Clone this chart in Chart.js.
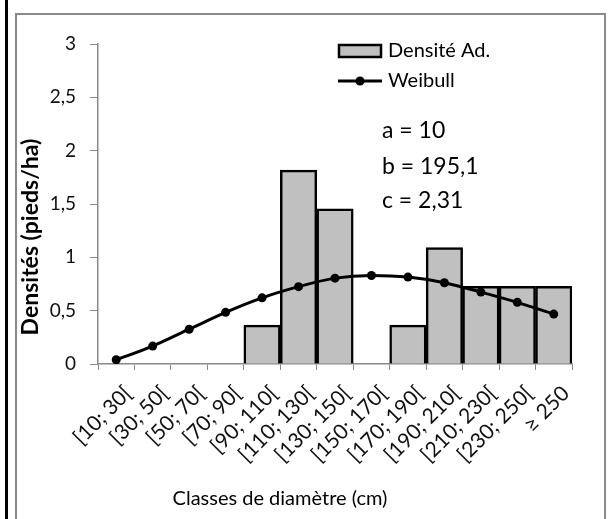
<!DOCTYPE html>
<html>
<head>
<meta charset="utf-8">
<script src="https://cdn.jsdelivr.net/npm/chart.js@4.4.0/dist/chart.umd.min.js"></script>
<style>
  html, body { margin: 0; padding: 0; background: #fff; }
  #wrap { position: relative; width: 609px; height: 519px; overflow: hidden; }
  #blackline { position: absolute; left: 5px; top: 0; width: 3px; height: 519px; background: #000; }
  #frame { position: absolute; left: 15px; top: 13px; width: 591px; height: 520px; border: 2px solid #8a8a8a; box-sizing: border-box; }
  canvas { position: absolute; left: 0; top: 0; }
</style>
</head>
<body>
<div id="wrap">
  <div id="blackline"></div>
  <div id="frame"></div>
  <canvas id="c" width="609" height="519"></canvas>
</div>
<script>
const categories = ["[10; 30[", "[30; 50[", "[50; 70[", "[70; 90[", "[90; 110[", "[110; 130[", "[130; 150[", "[150; 170[", "[170; 190[", "[190; 210[", "[210; 230[", "[230; 250[", "\u2265 250"];
const densiteAd = [0, 0, 0, 0, 0.364, 1.818, 1.455, 0, 0.364, 1.091, 0.727, 0.727, 0.727];
const weibull = [0.04, 0.168, 0.326, 0.484, 0.62, 0.725, 0.805, 0.83, 0.815, 0.762, 0.674, 0.578, 0.468];
const yTicks = [0, 0.5, 1, 1.5, 2, 2.5, 3];
const params = ["a = 10", "b = 195,1", "c = 2,31"];
const FONT = "Lato, 'Liberation Sans', sans-serif";

const overlay = {
  id: 'overlay',
  afterDraw(chart) {
    const ctx = chart.ctx;
    ctx.save();
    ctx.fillStyle = '#000';
    ctx.font = "bold 23px " + FONT;
    ctx.textAlign = 'center';
    ctx.textBaseline = 'middle';
    ctx.translate(31, 237);
    ctx.rotate(-Math.PI / 2);
    ctx.fillText("Densités (pieds/ha)", 0, 0);
    ctx.restore();
    ctx.save();
    ctx.fillStyle = '#000';
    ctx.font = "20px " + FONT;
    ctx.textAlign = 'center';
    ctx.textBaseline = 'middle';
    ctx.fillText("Classes de diamètre (cm)", 280, 499);
    // legend
    ctx.fillStyle = '#c0c0c0';
    ctx.fillRect(339, 45, 42, 12);
    ctx.strokeStyle = '#000';
    ctx.lineWidth = 2.5;
    ctx.strokeRect(339, 45, 42, 12);
    ctx.beginPath();
    ctx.moveTo(338, 81); ctx.lineTo(382, 81);
    ctx.lineWidth = 3;
    ctx.stroke();
    ctx.beginPath();
    ctx.arc(360, 81, 4.5, 0, Math.PI * 2);
    ctx.fillStyle = '#000';
    ctx.fill();
    ctx.font = "20px " + FONT;
    ctx.textAlign = 'left';
    ctx.fillText("Densité Ad.", 388, 51);
    ctx.fillText("Weibull", 388, 81);
    ctx.font = "23px " + FONT;
    const ys = [131, 167, 201];
    params.forEach((p, i) => ctx.fillText(p, 382, ys[i]));
    ctx.restore();
  }
};

new Chart(document.getElementById('c'), {
  data: {
    labels: categories,
    datasets: [
      {
        type: 'line',
        label: 'Weibull',
        data: weibull,
        borderColor: '#000',
        backgroundColor: '#000',
        borderWidth: 3,
        pointRadius: 4.5,
        pointBackgroundColor: '#000',
        pointBorderWidth: 0,
        tension: 0.4,
        cubicInterpolationMode: 'monotone',
        order: 0
      },
      {
        type: 'bar',
        label: 'Densité Ad.',
        data: densiteAd,
        backgroundColor: '#c0c0c0',
        borderColor: '#000',
        borderWidth: 2.5,
        borderSkipped: 'bottom',
        barPercentage: 1,
        categoryPercentage: 1,
        order: 1
      }
    ]
  },
  options: {
    responsive: false,
    animation: false,
    devicePixelRatio: 1,
    layout: { padding: { left: 0, right: 37, top: 44, bottom: 0 } },
    plugins: { legend: { display: false }, tooltip: { enabled: false } },
    scales: {
      x: {
        type: 'category',
        offset: true,
        grid: { offset: true, drawOnChartArea: false, drawTicks: true, tickLength: 6, color: '#8a8a8a' },
        border: { color: '#8a8a8a', width: 1.5 },
        ticks: { minRotation: 45, maxRotation: 45, color: '#111', font: { family: FONT, size: 21 }, padding: 11, labelOffset: 12, autoSkip: false },
        afterFit(s) { s.height = 155; }
      },
      y: {
        min: 0, max: 3,
        afterBuildTicks(s) { s.ticks = yTicks.map(v => ({ value: v })); },
        grid: { drawOnChartArea: false, drawTicks: true, tickLength: 8, color: '#8a8a8a' },
        border: { color: '#8a8a8a', width: 1.5 },
        ticks: { color: '#111', padding: 14, font: { family: FONT, size: 19 }, callback: v => String(v).replace('.', ',') },
        afterFit(s) { s.width = 98; }
      }
    }
  },
  plugins: [overlay]
});
</script>
</body>
</html>
